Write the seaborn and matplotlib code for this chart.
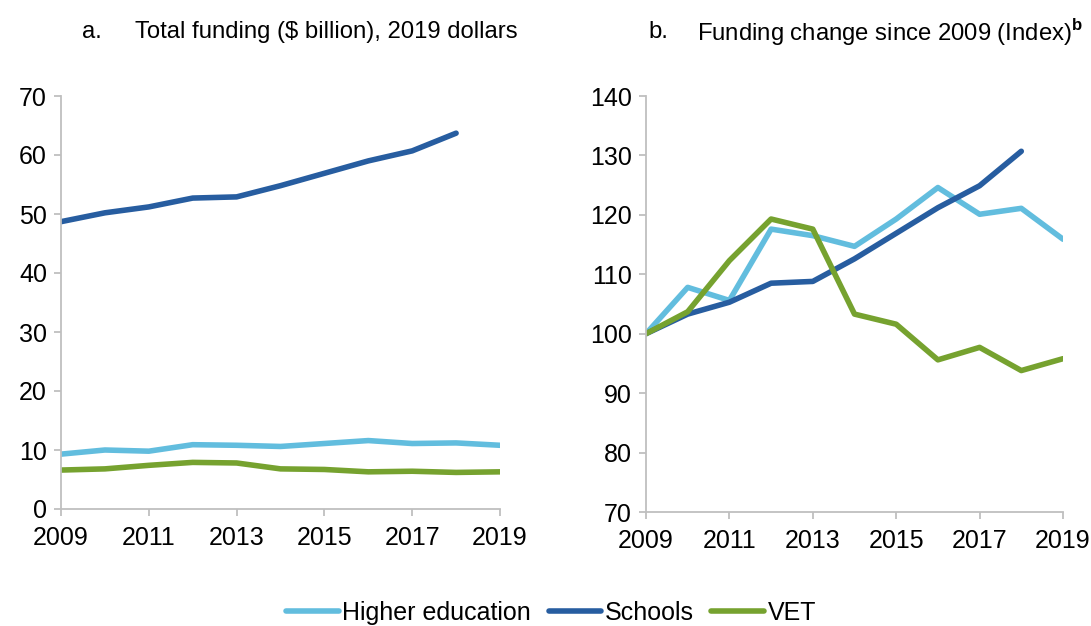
import matplotlib
matplotlib.use("Agg")
import matplotlib.pyplot as plt
import seaborn as sns
import pandas as pd
import numpy as np
from matplotlib.lines import Line2D

years = list(range(2009, 2020))
series_names = ["Higher education", "Schools", "VET"]

# Panel a: total funding ($ billion, 2019 dollars)
higher_ed_a = [9.3, 10.0, 9.8, 10.9, 10.8, 10.6, 11.1, 11.6, 11.1, 11.2, 10.8]
schools_a = [48.7, 50.2, 51.2, 52.7, 52.9, 54.8, 56.9, 59.0, 60.7, 63.7, np.nan]
vet_a = [6.6, 6.8, 7.4, 7.9, 7.8, 6.8, 6.7, 6.3, 6.4, 6.2, 6.3]

# Panel b: index (2009 = 100)
higher_ed_b = [100, 107.8, 105.6, 117.6, 116.5, 114.7, 119.3, 124.6, 120.1, 121.1, 115.9]
schools_b = [100, 103.3, 105.3, 108.5, 108.8, 112.6, 116.9, 121.2, 124.9, 130.7, np.nan]
vet_b = [100, 103.7, 112.3, 119.3, 117.6, 103.3, 101.6, 95.6, 97.7, 93.8, 95.8]

x_ticks = [2009, 2011, 2013, 2015, 2017, 2019]
y_ticks_a = [0, 10, 20, 30, 40, 50, 60, 70]
y_ticks_b = [70, 80, 90, 100, 110, 120, 130, 140]

title_a_label = "a."
title_a = "Total funding ($ billion), 2019 dollars"
title_b_label = "b."
title_b = r"Funding change since 2009 (Index)$^{\mathbf{b}}$"

colors = {"Higher education": "#62BDDE", "Schools": "#275DA0", "VET": "#76A22F"}

def long_df(he, sc, ve):
    rows = []
    for name, vals in zip(series_names, [he, sc, ve]):
        for y, v in zip(years, vals):
            rows.append({"year": y, "value": v, "series": name})
    return pd.DataFrame(rows).dropna()

df_a = long_df(higher_ed_a, schools_a, vet_a)
df_b = long_df(higher_ed_b, schools_b, vet_b)

sns.set_style("white")
plt.rcParams["font.family"] = ["Liberation Sans", "DejaVu Sans"]
plt.rcParams["text.color"] = "black"
plt.rcParams["mathtext.fontset"] = "custom"
plt.rcParams["mathtext.rm"] = "Liberation Sans"
plt.rcParams["mathtext.bf"] = "Liberation Sans:bold"

fig = plt.figure(figsize=(10.91, 6.26), dpi=100)
ax1 = fig.add_axes([61/1091, 1-509/626, 439/1091, 413/626])
ax2 = fig.add_axes([646/1091, 1-512/626, 417/1091, 416/626])

lw = 4.0
for ax, df, yt in [(ax1, df_a, y_ticks_a), (ax2, df_b, y_ticks_b)]:
    sns.lineplot(data=df, x="year", y="value", hue="series", hue_order=series_names,
                 palette=colors, linewidth=lw, ax=ax, legend=False)
    for ln in ax.get_lines():
        ln.set_solid_capstyle("round")
        ln.set_solid_joinstyle("round")
    ax.set_xlim(2009, 2019)
    ax.set_ylim(yt[0], yt[-1])
    ax.set_xticks(x_ticks)
    ax.set_yticks(yt)
    ax.set_xlabel("")
    ax.set_ylabel("")
    for s in ["top", "right"]:
        ax.spines[s].set_visible(False)
    for s in ["left", "bottom"]:
        ax.spines[s].set_color("#BFBFBF")
        ax.spines[s].set_linewidth(1.3)
    ax.tick_params(axis="both", which="both", direction="out", length=5, width=1.3,
                   color="#BFBFBF", labelsize=18, labelcolor="black",
                   left=True, bottom=True)
    ax.tick_params(axis="x", pad=7)
    ax.tick_params(axis="y", pad=5)

ty = 1 - 32/626
fs_title = 17.2
fig.text(82/1091, ty, title_a_label, fontsize=fs_title, ha="left", va="center")
fig.text(135/1091, ty, title_a, fontsize=fs_title, ha="left", va="center")
fig.text(648/1091, ty, title_b_label, fontsize=fs_title, ha="left", va="center")
fig.text(697/1091, ty, title_b, fontsize=fs_title, ha="left", va="center")

handles = [Line2D([0], [0], color=colors[n], lw=lw, solid_capstyle="round") for n in series_names]
fig.legend(handles, series_names, loc="center", bbox_to_anchor=(551/1091, 1-613/626),
           ncol=3, frameon=False, fontsize=18, handlelength=2.1, handletextpad=0.15,
           columnspacing=0.7, borderpad=0)

fig.savefig("out.png", dpi=100)
